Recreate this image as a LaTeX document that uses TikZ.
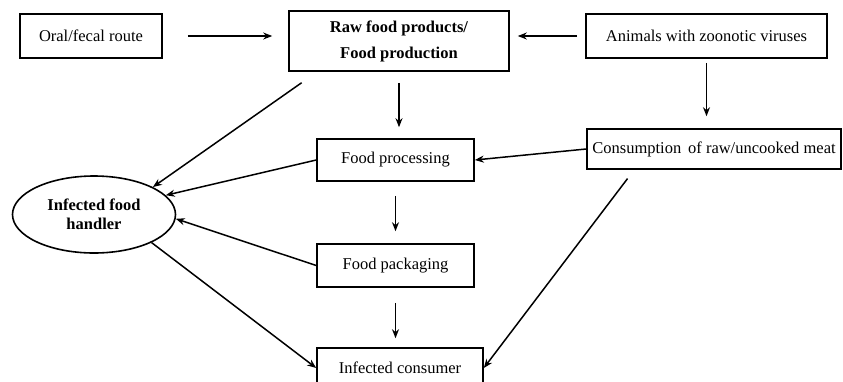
\documentclass[tikz,border=0pt]{standalone}
\usepackage{fontspec}
\setmainfont{Liberation Serif}
\usepackage{tikz}
\usetikzlibrary{arrows.meta,positioning,shapes.geometric}
\tikzset{
  box/.style={draw,line width=1.6pt,inner sep=0pt,align=center},
  oval/.style={draw,ellipse,line width=1.6pt,inner sep=0pt,align=center},
  every node/.style={font=\fontsize{16.5}{19}\selectfont}
}
\tikzstyle{arrow} = [line width=1.5pt,-{Stealth[length=9pt,width=7pt]}]

\begin{document}
\begin{tikzpicture}[x=1pt,y=-1pt]
  \useasboundingbox (0,0) rectangle (843,381);
  % boxes, pixel coordinates
  \node[box,minimum width=142pt,minimum height=44pt] (oral) at (91,36) {Oral/fecal route};
  \node[box,minimum width=220pt,minimum height=60pt,font=\fontsize{16.5}{20}\selectfont\bfseries] (raw) at (399,41)
    {Raw food products/\\[6pt] Food production};
  \node[box,minimum width=241pt,minimum height=44pt] (animals) at (706.5,36) {Animals with zoonotic viruses};
  \node[box,minimum width=254pt,minimum height=40pt] (cons) at (714,149) {Consumption\, of raw/uncooked meat};
  \node[box,minimum width=157pt,minimum height=42pt] (proc) at (395.5,160) {Food processing};
  \node[oval,minimum width=163pt,minimum height=77pt,font=\fontsize{16.5}{19}\selectfont\bfseries] (handler) at (94,214.5)
    {Infected food\\ handler};
  \node[box,minimum width=157pt,minimum height=43pt] (pack) at (395.5,265.5) {Food packaging};
  \node[box,minimum width=166pt,minimum height=40pt] (consumer) at (400,368) {Infected consumer};
  % arrows
  \draw[arrow,shorten <=25pt,shorten >=16pt] (oral.east) -- (oral.east -| raw.west);
  \draw[arrow,shorten <=8pt,shorten >=8pt] (animals.west) -- (animals.west -| raw.east);
  \draw[arrow,shorten <=11pt,shorten >=11pt] (raw.south) -- (raw.south |- proc.north);
  \draw[arrow,shorten <=4pt,shorten >=12pt] (animals.south) -- (animals.south |- cons.north);
  \draw[arrow] (cons.west) -- (proc.east);
  \draw[arrow,shorten <=19pt] ([xshift=29pt]raw.south west) -- (handler.25);
  \draw[arrow] (proc.west) -- (handler.15);
  \draw[arrow] (pack.west) -- (handler.-3);
  \draw[arrow,shorten <=14pt,shorten >=12pt] (proc.south) -- (proc.south |- pack.north);
  \draw[arrow] (handler.-26) -- (consumer.west);
  \draw[arrow,shorten <=15pt,shorten >=9pt] (pack.south) -- (pack.south |- consumer.north);
  \draw[arrow,shorten <=11pt] ([xshift=48pt]cons.south west) -- (consumer.east);
\end{tikzpicture}
\end{document}
